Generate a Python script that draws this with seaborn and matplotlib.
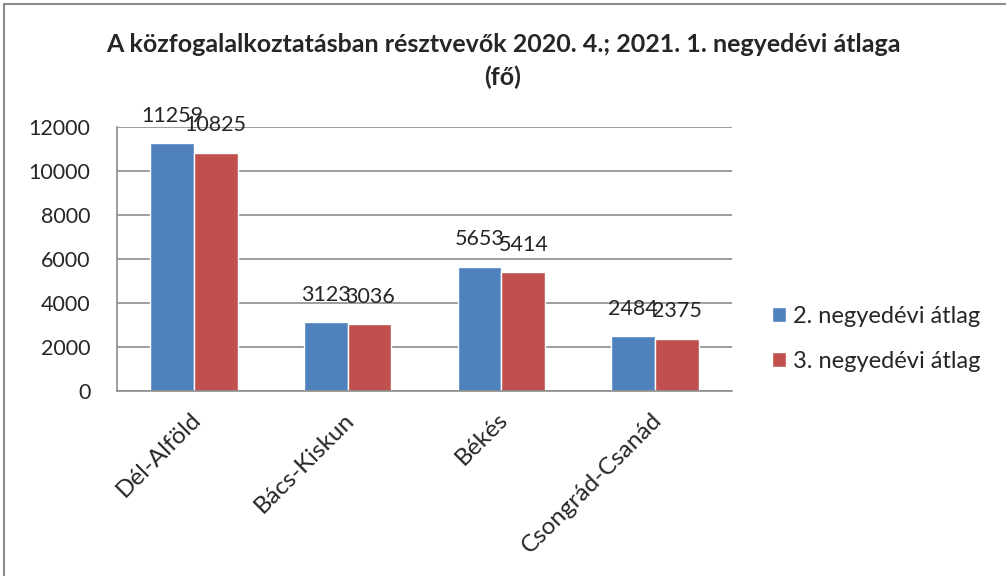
import pandas as pd
import matplotlib.pyplot as plt
import matplotlib.transforms as mtransforms
import seaborn as sns
from matplotlib.patches import Rectangle

# Adatok
regions = ["Dél-Alföld", "Bács-Kiskun", "Békés", "Csongrád-Csanád"]
series_names = ["2. negyedévi átlag", "3. negyedévi átlag"]
q2_values = [11259, 3123, 5653, 2484]
q3_values = [10825, 3036, 5414, 2375]
colors = ["#4F81BD", "#C0504D"]

df = pd.DataFrame({
    "region": regions * 2,
    "series": [series_names[0]] * 4 + [series_names[1]] * 4,
    "value": q2_values + q3_values,
})

sns.set_style("white")
plt.rcParams["font.family"] = ["Lato", "DejaVu Sans"]

fig = plt.figure(figsize=(10.06, 5.76), dpi=100)
ax = fig.add_axes([0.1163, 0.3212, 0.6113, 0.4583])

sns.barplot(data=df, x="region", y="value", hue="series", palette=colors,
            width=0.57, saturation=1, ax=ax, legend=True)

for cont in ax.containers:
    ax.bar_label(cont, labels=[f"{int(v)}" for v in cont.datavalues],
                 padding=12.5, fontsize=15.5)

ax.set_ylim(0, 12000)
ax.set_yticks(range(0, 12001, 2000))
ax.set_xlim(-0.5, 3.5)
ax.yaxis.grid(True, color="#8c8c8c", linewidth=1.2)
ax.set_axisbelow(True)
for s in ["top", "right"]:
    ax.spines[s].set_visible(False)
for s in ["left", "bottom"]:
    ax.spines[s].set_color("#8c8c8c")
    ax.spines[s].set_linewidth(1.2)
ax.tick_params(axis="y", length=0, pad=19, labelsize=15.5)
ax.tick_params(axis="x", length=0, pad=13, labelsize=17.5)
ax.set_xlabel("")
ax.set_ylabel("")
shift = mtransforms.ScaledTranslation(-4 / 100, 0, fig.dpi_scale_trans)
for lbl in ax.get_xticklabels():
    lbl.set_rotation(45)
    lbl.set_ha("right")
    lbl.set_va("top")
    lbl.set_rotation_mode("anchor")
    lbl.set_transform(lbl.get_transform() + shift)

ax.get_legend().remove()
handles, labels = ax.get_legend_handles_labels()
fig.legend(handles, labels, loc="center left", bbox_to_anchor=(0.7674, 0.4115),
           frameon=False, fontsize=17, handlelength=0.6, handleheight=0.6,
           handletextpad=0.3, labelspacing=1.0, borderpad=0, borderaxespad=0)

fig.text(0.5, 0.922, "A közfogalalkoztatásban résztvevők 2020. 4.; 2021. 1. negyedévi átlaga",
         ha="center", va="center", fontsize=18, fontweight="bold")
fig.text(0.5, 0.865, "(fő)", ha="center", va="center", fontsize=18, fontweight="bold")

# keret
fig.patches.append(Rectangle((0.004, -0.1), 1.2, 1.093, transform=fig.transFigure,
                             fill=False, edgecolor="#8c8c8c", linewidth=1.5))

fig.savefig("out.png", dpi=100)
